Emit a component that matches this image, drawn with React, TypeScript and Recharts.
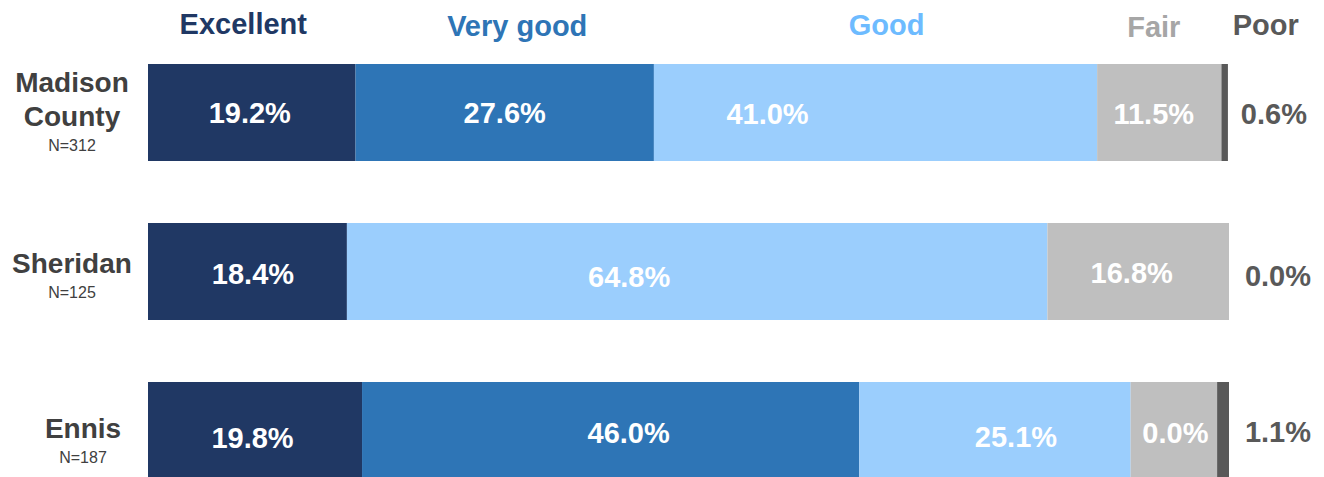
import React from 'react';
import { BarChart, Bar, XAxis, YAxis } from 'recharts';

// ---------- data ----------
const categories = ['Madison County', 'Sheridan', 'Ennis'];
const categoryLines = [['Madison', 'County'], ['Sheridan'], ['Ennis']];
const sampleSizes = ['N=312', 'N=125', 'N=187'];
const seriesNames = ['Excellent', 'Very good', 'Good', 'Fair', 'Poor'];
const excellent = [19.2, 18.4, 19.8];
const veryGood = [27.6, 0, 46.0];
const good = [41.0, 64.8, 25.1];
const fair = [11.5, 16.8, 8.0];
const poor = [0.6, 0.0, 1.1];
const excellentLabels = ['19.2%', '18.4%', '19.8%'];
const veryGoodLabels = ['27.6%', '', '46.0%'];
const goodLabels = ['41.0%', '64.8%', '25.1%'];
const fairLabels = ['11.5%', '16.8%', '0.0%'];
const poorLabels = ['0.6%', '0.0%', '1.1%'];

const data = categories.map((name, i) => ({
  name,
  excellent: excellent[i],
  veryGood: veryGood[i],
  good: good[i],
  fair: fair[i],
  poor: poor[i],
}));

// ---------- styles ----------
const FONT = '"Liberation Sans", Arial, Helvetica, sans-serif';

const SERIES = [
  { key: 'excellent', fill: '#203864', headerColor: '#203864', headerDx: -8.5, headerDy: -30, labels: excellentLabels, labelColor: '#FFFFFF', dx: [-2, 5.5, -2.5], dy: [0.5, 2.5, 7], outside: false },
  { key: 'veryGood', fill: '#2E75B6', headerColor: '#2E75B6', headerDx: 12.5, headerDy: -28.5, labels: veryGoodLabels, labelColor: '#FFFFFF', dx: [0, 0, 18], dy: [0.5, 0, 2], outside: false },
  { key: 'good', fill: '#9BCEFD', headerColor: '#6DBBFF', headerDx: 11, headerDy: -29, labels: goodLabels, labelColor: '#FFFFFF', dx: [-108, -68, 21], dy: [1.5, 5.5, 6.5], outside: false },
  { key: 'fair', fill: '#BFBFBF', headerColor: '#A6A6A6', headerDx: -5.5, headerDy: -27, labels: fairLabels, labelColor: '#FFFFFF', dx: [-5.5, -6.5, 1.5], dy: [1, 1.5, 2.5], outside: false },
  { key: 'poor', fill: '#595959', headerColor: '#595959', headerDx: 41, headerDy: -29, labels: poorLabels, labelColor: '#595959', dx: [46, 49, 49], dy: [1, 4.5, 1.5], outside: true },
];

const ROW_DX = [64, 64, 75];
const ROW_DY = [-5, 0, 6];

function makeShape(si: number) {
  const st = SERIES[si];
  return (props: any) => {
    const { x, y, width, height, index } = props;
    const cy = y + height / 2;
    const fs = 29;
    const text = st.labels[index];
    let label = null;
    if (text) {
      const lx = st.outside ? x + width + st.dx[index] : x + width / 2 + st.dx[index];
      const ly = cy + st.dy[index] + fs * 0.36;
      if (st.outside || width > 0) {
        label = (
          <text x={lx} y={ly} textAnchor="middle" fill={st.labelColor} fontFamily={FONT} fontWeight="bold" fontSize={fs}>
            {text}
          </text>
        );
      }
    }
    const header =
      index === 0 ? (
        <text
          x={x + width / 2 + st.headerDx}
          y={y + st.headerDy}
          textAnchor="middle"
          fill={st.headerColor}
          fontFamily={FONT}
          fontWeight="bold"
          fontSize={29}
        >
          {seriesNames[si]}
        </text>
      ) : null;
    return (
      <g>
        {width > 0 && <rect x={x} y={y} width={width} height={height} fill={st.fill} />}
        {label}
        {header}
      </g>
    );
  };
}

const NameTick = (props: any) => {
  const { y, payload } = props;
  const i = categories.indexOf(payload.value);
  if (i < 0) return null;
  const lines = categoryLines[i];
  const n = lines.length;
  const cx = ROW_DX[i];
  const base = y + ROW_DY[i] + 1.5;
  const lineH = 34;
  const baselines = lines.map((_, k) => base + (k - (n - 1) / 2) * lineH);
  const nBase = baselines[n - 1] + 25;
  return (
    <g>
      {lines.map((ln, k) => (
        <text key={k} x={cx} y={baselines[k]} textAnchor="middle" fill="#404040" fontFamily={FONT} fontWeight="bold" fontSize={28}>
          {ln}
        </text>
      ))}
      <text x={cx} y={nBase} textAnchor="middle" fill="#404040" fontFamily={FONT} fontSize={16}>
        {sampleSizes[i]}
      </text>
    </g>
  );
};

export default function App() {
  return (
    <BarChart
      width={1308}
      height={520}
      data={data}
      layout="vertical"
      margin={{ top: 25, right: 87, bottom: 18, left: 0 }}
      barSize={97}
    >
      <XAxis type="number" domain={[0, 100]} hide />
      <YAxis
        type="category"
        dataKey="name"
        width={140}
        axisLine={false}
        tickLine={false}
        tick={<NameTick />}
        interval={0}
      />
      {SERIES.map((st, si) => (
        <Bar
          key={st.key}
          dataKey={st.key}
          stackId="a"
          fill={st.fill}
          isAnimationActive={false}
          shape={makeShape(si)}
        />
      ))}
    </BarChart>
  );
}
